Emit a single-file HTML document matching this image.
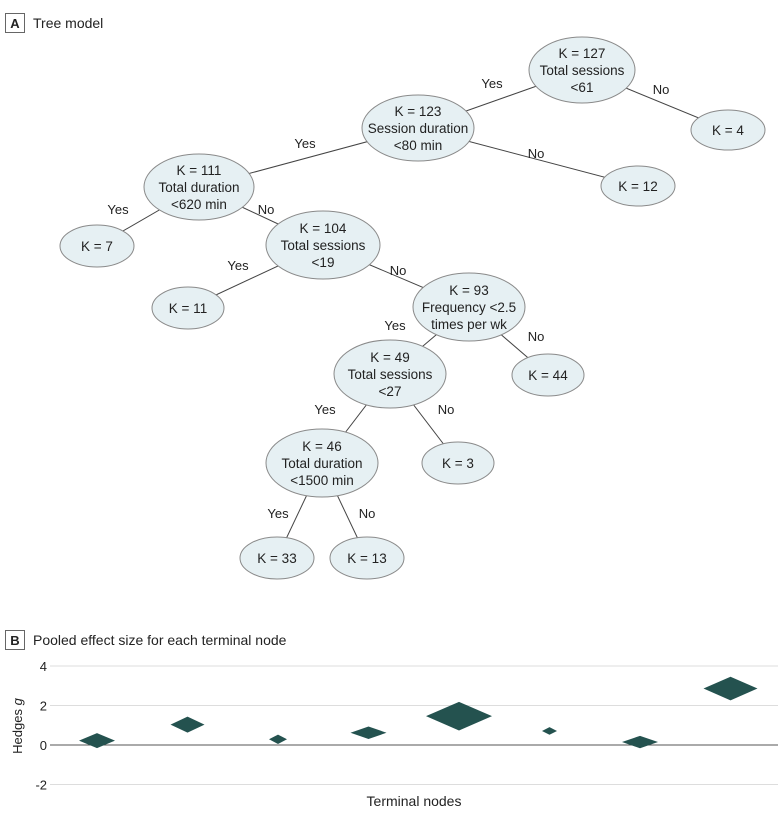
<!DOCTYPE html>
<html><head><meta charset="utf-8"><style>
body{margin:0;background:#fff;}
svg text{font-family:"Liberation Sans Narrow","Liberation Sans",sans-serif;fill:#222;}
</style></head><body>
<svg width="780" height="820" viewBox="0 0 780 820" xmlns="http://www.w3.org/2000/svg">
<g>
<rect x="5.5" y="13.5" width="19" height="19" fill="#fff" stroke="#666"/>
<text x="15" y="28" text-anchor="middle" font-size="13" font-weight="bold">A</text>
<text x="33" y="28" font-size="14">Tree model</text>
</g>
<g id="tree"></g>
<g>
<rect x="5.5" y="630.5" width="19" height="19" fill="#fff" stroke="#666"/>
<text x="15" y="645" text-anchor="middle" font-size="13" font-weight="bold">B</text>
<text x="33" y="645" font-size="14">Pooled effect size for each terminal node</text>
</g>
<g id="chart"></g>
</svg>
<script>
const NS="http://www.w3.org/2000/svg";
function mk(tag,attrs,parent){const e=document.createElementNS(NS,tag);for(const k in attrs)e.setAttribute(k,attrs[k]);parent.appendChild(e);return e;}
// Tree
const nodeIds=["n127","n4","n123","n12","n111","n7","n104","n11","n93","n44","n49","n3","n46","n33","n13"];
const nodeLabels=[["K = 127","Total sessions","<61"],["K = 4"],["K = 123","Session duration","<80 min"],["K = 12"],["K = 111","Total duration","<620 min"],["K = 7"],["K = 104","Total sessions","<19"],["K = 11"],["K = 93","Frequency <2.5","times per wk"],["K = 44"],["K = 49","Total sessions","<27"],["K = 3"],["K = 46","Total duration","<1500 min"],["K = 33"],["K = 13"]];
const nodePos=[[582,70,53,33],[728,130,37,20],[418,128,56,33],[638,186,37,20],[199,187,55,33],[97,246,37,21],[323,245,57,34],[188,308,36,21],[469,307,56,34],[548,375,36,21],[390,374,56,34],[458,463,36,21],[322,463,56,34],[277,558,37,21],[367,558,37,21]];
const edges=[[0,2,"Yes",492,88],[0,1,"No",661,94],[2,4,"Yes",305,148],[2,3,"No",536,158],[4,5,"Yes",118,214],[4,6,"No",266,214],[6,7,"Yes",238,270],[6,8,"No",398,275],[8,10,"Yes",395,330],[8,9,"No",536,341],[10,12,"Yes",325,414],[10,11,"No",446,414],[12,13,"Yes",278,518],[12,14,"No",367,518]];
const tree=document.getElementById('tree');
edges.forEach(e=>{const a=nodePos[e[0]],b=nodePos[e[1]];
 const l=mk('line',{x1:a[0],y1:a[1],x2:b[0],y2:b[1],stroke:'#444','stroke-width':1},tree);
 
 
});
nodePos.forEach((p,i)=>{const g=mk('g',{},tree);
 
 
 mk('ellipse',{cx:p[0],cy:p[1],rx:p[2],ry:p[3],fill:'#e6f0f3',stroke:'#8a8a8a','stroke-width':1},g);
 const L=nodeLabels[i];const y0=p[1]+5-(L.length-1)*8.5;
 L.forEach((s,j)=>{const t=mk('text',{x:p[0],y:y0+j*17,'font-size':13.5,'text-anchor':'middle'},g);t.textContent=s;});
});
edges.forEach(e=>{
 const t=mk('text',{x:e[3],y:e[4],'font-size':13,'text-anchor':'middle'},tree);t.textContent=e[2];
 
 
});
// Chart
const categories=["Node 1","Node 2","Node 3","Node 4","Node 5","Node 6","Node 7","Node 8"];
const hedgesG=[0.22,1.03,0.29,0.62,1.46,0.71,0.15,2.86];
const weightW=[18,17,9,18,33,7.5,18,27];
const weightH=[7.5,8,4.7,6.3,14.3,3.8,6.2,11.8];
const yTicks=[4,2,0,-2];
const yTickLabels=["4","2","0","-2"];
const X0=50,X1=778,Y4=666,Y0=745;
const yScale=v=>Y0-(v)*(Y0-Y4)/4;
const xScale=i=>97+i*90.5;
const ch=document.getElementById('chart');
yTicks.forEach((v,i)=>{const l=mk('line',{x1:X0,x2:X1,y1:yScale(v),y2:yScale(v),stroke:v===0?'#555':'#ddd','stroke-width':1},ch);
 
 
 const t=mk('text',{x:X0-3,y:yScale(v)+5,'font-size':13,'text-anchor':'end'},ch);t.textContent=yTickLabels[i];
 
 
});
const yt=mk('text',{x:0,y:0,'font-size':13,'text-anchor':'middle',transform:'translate(22,726) rotate(-90)'},ch);
yt.innerHTML='Hedges <tspan font-style="italic">g</tspan>';


const xt=mk('text',{x:414,y:806,'font-size':14,'text-anchor':'middle'},ch);xt.textContent='Terminal nodes';


hedgesG.forEach((v,i)=>{const cx=xScale(i),cy=yScale(v),w=weightW[i],h=weightH[i];
 const d=mk('polygon',{points:`${cx-w},${cy} ${cx},${cy-h} ${cx+w},${cy} ${cx},${cy+h}`,fill:'#24524f'},ch);
 
 
});
</script>
</body></html>
